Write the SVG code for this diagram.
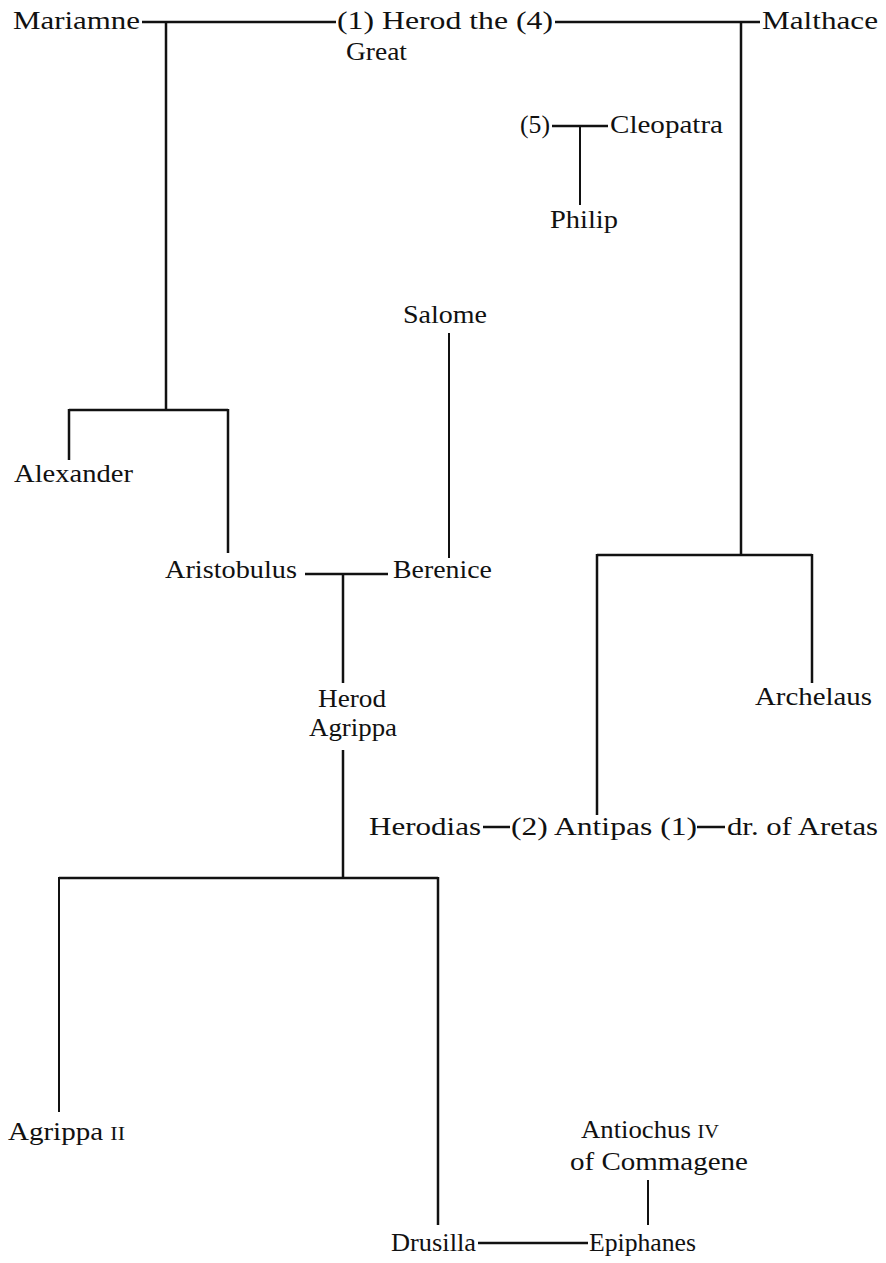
<svg xmlns="http://www.w3.org/2000/svg" width="886" height="1263" viewBox="0 0 886 1263">
<style>
text{font-family:"Liberation Serif","Times New Roman",serif;font-size:25px;fill:#111;}
.sc{font-size:19px;}
.ln{stroke:#111;stroke-width:2.5;fill:none;stroke-linecap:butt;}
.thin{stroke-width:2;}
</style>
<rect width="886" height="1263" fill="#fff"/>
<g id="connectors">
<path class="ln" d="M142 22H336M555 22H760"/>
<path class="ln" d="M166 22V410M69 410H228M69 409V460M228 409V553"/>
<path class="ln" d="M741 22V555M597 555H812M597 554V815M812 554V683"/>
<path class="ln" d="M552 126H608"/>
<path class="ln thin" d="M580 126V205"/>
<path class="ln thin" d="M449 333V558"/>
<path class="ln" d="M305 574H388M343 574V683"/>
<path class="ln" d="M343 750V878M59 878H438M438 877V1225"/>
<path class="ln thin" d="M59 877V1112"/>
<path class="ln thin" d="M648 1180V1225"/>
<path class="ln" d="M478 1243H588"/>
<path class="ln" d="M483 827H510M697 827H725"/>
</g>
<g id="mariamne"><text x="13" y="29" textLength="127" lengthAdjust="spacingAndGlyphs">Mariamne</text></g>
<g id="herod"><text x="337" y="29" textLength="216" lengthAdjust="spacingAndGlyphs">(1) Herod the (4)</text><text x="346" y="60" textLength="61" lengthAdjust="spacingAndGlyphs">Great</text></g>
<g id="malthace"><text x="762" y="29" textLength="116" lengthAdjust="spacingAndGlyphs">Malthace</text></g>
<g id="n5"><text x="520" y="133" textLength="30" lengthAdjust="spacingAndGlyphs">(5)</text></g>
<g id="cleopatra"><text x="610" y="133" textLength="113" lengthAdjust="spacingAndGlyphs">Cleopatra</text></g>
<g id="philip"><text x="550" y="228" textLength="68" lengthAdjust="spacingAndGlyphs">Philip</text></g>
<g id="salome"><text x="403" y="323" textLength="84" lengthAdjust="spacingAndGlyphs">Salome</text></g>
<g id="alexander"><text x="14" y="482" textLength="119" lengthAdjust="spacingAndGlyphs">Alexander</text></g>
<g id="aristobulus"><text x="165" y="578" textLength="132" lengthAdjust="spacingAndGlyphs">Aristobulus</text></g>
<g id="berenice"><text x="393" y="578" textLength="99" lengthAdjust="spacingAndGlyphs">Berenice</text></g>
<g id="herodagrippa"><text x="318" y="707" textLength="68" lengthAdjust="spacingAndGlyphs">Herod</text><text x="309" y="736" textLength="88" lengthAdjust="spacingAndGlyphs">Agrippa</text></g>
<g id="archelaus"><text x="755" y="705" textLength="117" lengthAdjust="spacingAndGlyphs">Archelaus</text></g>
<g id="herodias"><text x="369" y="835" textLength="112" lengthAdjust="spacingAndGlyphs">Herodias</text></g>
<g id="antipas"><text x="511" y="835" textLength="186" lengthAdjust="spacingAndGlyphs">(2) Antipas (1)</text></g>
<g id="aretas"><text x="727" y="835" textLength="151" lengthAdjust="spacingAndGlyphs">dr. of Aretas</text></g>
<g id="agrippa2"><text x="8" y="1140" textLength="117" lengthAdjust="spacingAndGlyphs">Agrippa <tspan class="sc">II</tspan></text></g>
<g id="antiochus"><text x="581" y="1138" textLength="138" lengthAdjust="spacingAndGlyphs">Antiochus <tspan class="sc">IV</tspan></text><text x="570" y="1170" textLength="178" lengthAdjust="spacingAndGlyphs">of Commagene</text></g>
<g id="drusilla"><text x="391" y="1251" textLength="85" lengthAdjust="spacingAndGlyphs">Drusilla</text></g>
<g id="epiphanes"><text x="589" y="1251" textLength="107" lengthAdjust="spacingAndGlyphs">Epiphanes</text></g>
</svg>
